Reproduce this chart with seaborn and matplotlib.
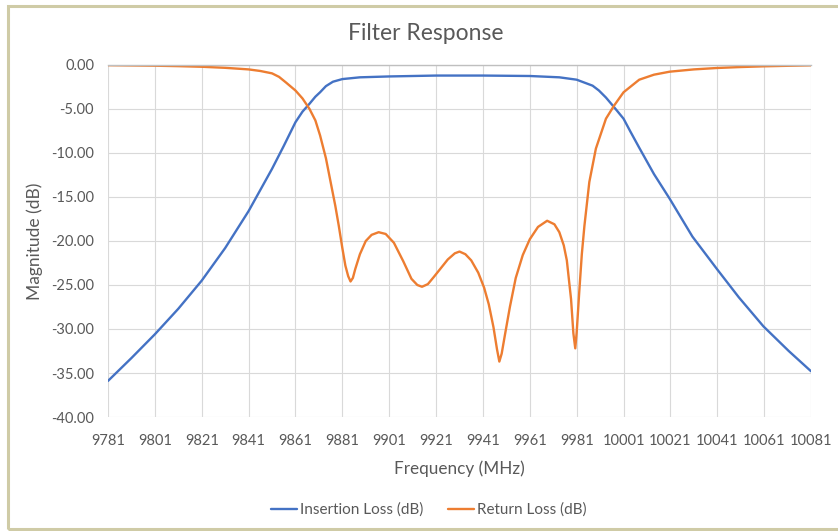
import pandas as pd
import matplotlib.pyplot as plt
from matplotlib.patches import Rectangle
import seaborn as sns

# Insertion loss (S21)
il_freq = [9781, 9791, 9801, 9811, 9821, 9831, 9841, 9851, 9856, 9861, 9864, 9867,
           9869.5, 9871.5, 9874, 9877, 9881, 9888.5, 9901, 9921, 9941, 9961, 9973.6,
           9981, 9987.8, 9990.5, 9993.5, 9997, 10001, 10004, 10007.7, 10014, 10020.7,
           10030.4, 10040.9, 10050.2, 10060.7, 10071.5, 10081]
il_db = [-35.9, -33.3, -30.6, -27.7, -24.5, -20.8, -16.6, -11.8, -9.2, -6.5, -5.3, -4.4,
         -3.6, -3.1, -2.4, -1.9, -1.6, -1.4, -1.3, -1.2, -1.2, -1.25, -1.4,
         -1.67, -2.35, -2.9, -3.7, -4.8, -6.1, -7.6, -9.4, -12.4, -15.2,
         -19.5, -23.2, -26.4, -29.7, -32.5, -34.8]

# Return loss (S11)
rl_freq = [9781, 9791, 9801, 9811, 9821, 9831, 9841, 9846, 9851, 9854, 9857, 9861, 9864,
           9867, 9869.5, 9871.5, 9874, 9876, 9878, 9879.5, 9881, 9882.3, 9883.5,
           9884.5, 9885.5, 9886.5, 9888.5, 9891, 9893.5, 9896.5, 9899.5, 9903, 9907,
           9910.5, 9913, 9915, 9917.5, 9920, 9923, 9926, 9929, 9931, 9933.5, 9936,
           9939, 9941.5, 9943.5, 9945.5, 9947, 9948, 9949, 9950.5, 9952.5, 9955,
           9958, 9961, 9964.5, 9968.4, 9971.5, 9973.6, 9975.5, 9976.8, 9978.6,
           9979.6, 9980.4, 9981, 9982.1, 9983.2, 9984.3, 9986.4, 9989.2, 9993.5,
           9997, 10001, 10007.7, 10014, 10020.7, 10031, 10040.9, 10050, 10060.7,
           10071, 10081]
rl_db = [-0.02, -0.05, -0.08, -0.13, -0.2, -0.32, -0.5, -0.68, -0.95, -1.35, -2.0, -2.9, -3.8,
         -5.0, -6.3, -8.0, -10.6, -13.3, -16.0, -18.3, -20.8, -22.8, -24.0,
         -24.6, -24.2, -23.2, -21.5, -20.0, -19.3, -19.0, -19.2, -20.2, -22.3,
         -24.3, -25.0, -25.2, -24.9, -24.1, -23.1, -22.1, -21.4, -21.2, -21.5, -22.2,
         -23.6, -25.3, -27.2, -29.8, -32.3, -33.7, -32.8, -30.5, -27.5, -24.2,
         -21.6, -19.8, -18.4, -17.7, -18.1, -19.0, -20.5, -22.2, -26.6,
         -30.5, -32.2, -30.4, -25.8, -21.5, -18.3, -13.3, -9.5, -6.1,
         -4.6, -3.1, -1.67, -1.1, -0.76, -0.5, -0.34, -0.24, -0.15,
         -0.09, -0.04]

x_ticks = list(range(9781, 10082, 20))
y_ticks = list(range(-40, 1, 5))

df = pd.concat([
    pd.DataFrame({"Frequency": il_freq, "Magnitude": il_db, "Series": "Insertion Loss (dB)"}),
    pd.DataFrame({"Frequency": rl_freq, "Magnitude": rl_db, "Series": "Return Loss (dB)"}),
], ignore_index=True)

sns.set_theme(style="whitegrid")
plt.rcParams["font.family"] = ["Lato", "DejaVu Sans"]
text_color = "#595959"

fig = plt.figure(figsize=(8.38, 5.31), dpi=100)
ax = fig.add_axes([108 / 838, 1 - 417 / 531, (811 - 108) / 838, (417 - 65) / 531])

sns.lineplot(data=df, x="Frequency", y="Magnitude", hue="Series",
             palette=["#4472C4", "#ED7D31"], linewidth=1.7,
             estimator=None, ax=ax)

ax.set_xlim(9781, 10081)
ax.set_ylim(-40, 0)
ax.set_xticks(x_ticks)
ax.set_xticklabels([str(v) for v in x_ticks])
ax.set_yticks(y_ticks)
ax.set_yticklabels([f"{v:.2f}" for v in y_ticks])
ax.tick_params(axis="both", length=0, labelcolor=text_color)
ax.tick_params(axis="x", pad=12, labelsize=10.5)
ax.tick_params(axis="y", pad=10, labelsize=10.5)
ax.grid(True, color="#d9d9d9", linewidth=0.8)

for side in ["left", "right", "bottom"]:
    ax.spines[side].set_visible(False)
ax.spines["top"].set_color("#bfbfbf")
ax.spines["top"].set_linewidth(1.0)

ax.set_xlabel("Frequency (MHz)", fontsize=12.3, color=text_color, labelpad=9)
ax.set_ylabel("Magnitude (dB)", fontsize=12.5, color=text_color, labelpad=6)

fig.text(426 / 838, 1 - 33 / 531, "Filter Response", ha="center", va="center",
         fontsize=16.5, color=text_color)

handles, labels = ax.get_legend_handles_labels()
ax.get_legend().remove()
fig.legend(handles, labels, loc="center", bbox_to_anchor=(429 / 838, 1 - 510 / 531),
           ncol=2, frameon=False, fontsize=11, handlelength=1.7, handletextpad=0.2,
           columnspacing=1.6, labelcolor=text_color)

# chart-area border like the spreadsheet frame
fig.patches.append(Rectangle((8 / 838, 1 - 529 / 531), 1.0, (529 - 6) / 531,
                             transform=fig.transFigure, fill=False,
                             edgecolor="#cfcba6", linewidth=2.2))

fig.savefig("out.png", dpi=100)
